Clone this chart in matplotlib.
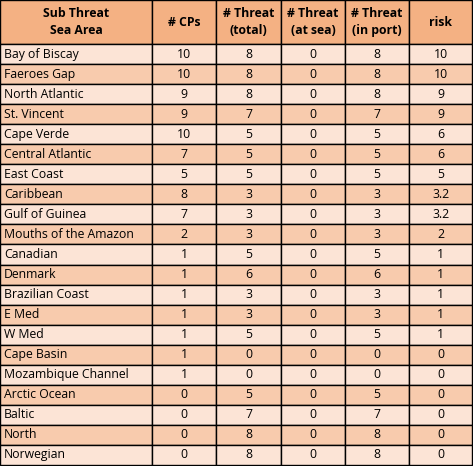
import matplotlib.pyplot as plt
from matplotlib.patches import Rectangle

areas = ["Bay of Biscay", "Faeroes Gap", "North Atlantic", "St. Vincent", "Cape Verde",
         "Central Atlantic", "East Coast", "Caribbean", "Gulf of Guinea", "Mouths of the Amazon",
         "Canadian", "Denmark", "Brazilian Coast", "E Med", "W Med", "Cape Basin",
         "Mozambique Channel", "Arctic Ocean", "Baltic", "North", "Norwegian"]
cps = [10, 10, 9, 9, 10, 7, 5, 8, 7, 2, 1, 1, 1, 1, 1, 1, 1, 0, 0, 0, 0]
threat_total = [8, 8, 8, 7, 5, 5, 5, 3, 3, 3, 5, 6, 3, 3, 5, 0, 0, 5, 7, 8, 8]
threat_sea = [0] * 21
threat_port = [8, 8, 8, 7, 5, 5, 5, 3, 3, 3, 5, 6, 3, 3, 5, 0, 0, 5, 7, 8, 8]
risk = ["10", "10", "9", "9", "6", "6", "5", "3.2", "3.2", "2", "1", "1", "1", "1", "1",
        "0", "0", "0", "0", "0", "0"]
headers = ["Sub Threat\nSea Area", "# CPs", "# Threat\n(total)", "# Threat\n(at sea)",
           "# Threat\n(in port)", "risk"]

W, H = 473, 466
fig = plt.figure(figsize=(W / 100, H / 100), dpi=100)
ax = fig.add_axes([0, 0, 1, 1])
ax.set_xlim(0, W)
ax.set_ylim(H, 0)
ax.axis("off")

col_x = [0, 152, 216, 281, 345, 409, 472]
head_h = 44
row_h = (H - 1 - head_h) / len(areas)
font = "Open Sans"
fs = 8.8

for i in range(6):
    ax.add_patch(Rectangle((col_x[i], 0), col_x[i + 1] - col_x[i], head_h,
                           facecolor="#F4B183", edgecolor="black", lw=1))
    ax.text((col_x[i] + col_x[i + 1]) / 2, head_h / 2, headers[i], ha="center", va="center",
            fontsize=fs, fontweight="bold", family=font, linespacing=1.45)

for r in range(len(areas)):
    y = head_h + r * row_h
    color = "#FCE4D6" if r % 2 == 0 else "#F8CBAD"
    vals = [areas[r], cps[r], threat_total[r], threat_sea[r], threat_port[r], risk[r]]
    for i in range(6):
        ax.add_patch(Rectangle((col_x[i], y), col_x[i + 1] - col_x[i], row_h,
                               facecolor=color, edgecolor="black", lw=1))
        if i == 0:
            ax.text(4, y + row_h / 2, vals[i], ha="left", va="center", fontsize=fs, family=font)
        else:
            ax.text((col_x[i] + col_x[i + 1]) / 2, y + row_h / 2, str(vals[i]),
                    ha="center", va="center", fontsize=fs, family=font)

fig.savefig("out.png", dpi=100)
